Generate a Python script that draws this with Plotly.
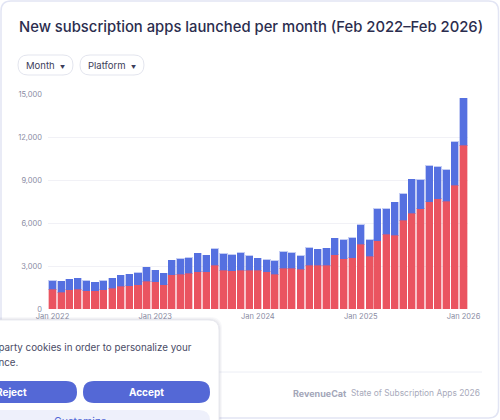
import pandas as pd
import plotly.graph_objects as go

# ---------------- data ----------------
months = pd.date_range("2022-01-01", periods=49, freq="MS")
total_apps = [1980, 1930, 2070, 2160, 1980, 1880, 1980, 2140, 2370, 2420, 2540, 2910,
              2700, 2510, 3400, 3490, 3580, 3890, 3760, 4190, 3840, 3800, 3930, 3700,
              3550, 3440, 3360, 3980, 3940, 3730, 4280, 4160, 4240, 4940, 4820, 4980,
              5890, 4820, 6980, 6980, 7440, 8050, 9050, 9030, 9980, 9930, 9720, 11680,
              14700]
red_apps = [1370, 1160, 1350, 1370, 1280, 1260, 1330, 1460, 1600, 1630, 1700, 1950,
            1910, 1700, 2400, 2410, 2510, 2590, 2590, 3060, 2690, 2660, 2720, 2700,
            2700, 2610, 2430, 2860, 2840, 2790, 3060, 3050, 3070, 3770, 3520, 3560,
            4510, 3680, 4750, 5230, 5160, 6190, 6680, 6980, 7470, 7700, 7510, 8650,
            11440]
blue_apps = [t - r for t, r in zip(total_apps, red_apps)]
y_ticks = [0, 3000, 6000, 9000, 12000, 15000]

RED = "#ea5460"
BLUE = "#5570e0"

W, H = 500, 420
ML, MR, MT, MB = 48, 32, 94, 111
PW, PH = W - ML - MR, H - MT - MB


def px(x):
    return (x - ML) / PW


def py(y):
    return 1 - (y - MT) / PH


def rrect(x0, y0, x1, y1, r):
    pts = [
        ("M", x0 + r, y0), ("L", x1 - r, y0), ("Q", x1, y0, x1, y0 + r),
        ("L", x1, y1 - r), ("Q", x1, y1, x1 - r, y1), ("L", x0 + r, y1),
        ("Q", x0, y1, x0, y1 - r), ("L", x0, y0 + r), ("Q", x0, y0, x0 + r, y0),
    ]
    s = ""
    for p in pts:
        cmd = p[0]
        coords = p[1:]
        parts = []
        for i in range(0, len(coords), 2):
            parts.append(f"{px(coords[i]):.5f},{py(coords[i+1]):.5f}")
        s += cmd + " " + " ".join(parts) + " "
    return s + "Z"


fig = go.Figure()
fig.add_trace(go.Bar(x=months, y=red_apps, name="iOS",
                     marker=dict(color=RED, line=dict(color="rgba(234,84,96,0.35)", width=1))))
fig.add_trace(go.Bar(x=months, y=blue_apps, name="Android",
                     marker=dict(color=BLUE, line=dict(color="rgba(85,112,224,0.35)", width=1))))

shapes = []
shapes.append(dict(type="path", path=rrect(1, 1, 498.5, 418, 10), xref="paper", yref="paper",
                   line=dict(color="#e2e5f4", width=1.5), fillcolor="rgba(0,0,0,0)", layer="below"))
shapes.append(dict(type="path", path=rrect(18, 55, 73, 75, 10), xref="paper", yref="paper",
                   line=dict(color="#e3e5ee", width=1), fillcolor="white", layer="below"))
shapes.append(dict(type="path", path=rrect(80, 55, 144, 75, 10), xref="paper", yref="paper",
                   line=dict(color="#e3e5ee", width=1), fillcolor="white", layer="below"))
shapes.append(dict(type="line", x0=px(18), x1=px(482), y0=py(372), y1=py(372), xref="paper", yref="paper",
                   line=dict(color="#eceef5", width=1), layer="below"))
for i, a in enumerate([0.03, 0.04, 0.05]):
    d = 3 - i
    shapes.append(dict(type="path", path=rrect(-20, 320 - d, 219 + d, 440, 12), xref="paper", yref="paper",
                       line=dict(width=0), fillcolor=f"rgba(40,40,80,{a})", layer="above"))
shapes.append(dict(type="path", path=rrect(-20, 320, 219, 440, 10), xref="paper", yref="paper",
                   line=dict(color="#e9eaf0", width=1), fillcolor="white", layer="above"))
shapes.append(dict(type="path", path=rrect(-49, 381, 77, 403, 11), xref="paper", yref="paper",
                   line=dict(width=0), fillcolor="#5468d6", layer="above"))
shapes.append(dict(type="path", path=rrect(83, 381, 210, 403, 11), xref="paper", yref="paper",
                   line=dict(width=0), fillcolor="#5468d6", layer="above"))
shapes.append(dict(type="path", path=rrect(-49, 410, 210, 432, 11), xref="paper", yref="paper",
                   line=dict(width=0), fillcolor="#eef0fb", layer="above"))

FONT = "Inter"


def note(text, x, y, anchor, size, color, weight="normal"):
    return dict(text=text, x=px(x), y=py(y), xref="paper", yref="paper", xanchor=anchor,
                yanchor="middle", showarrow=False,
                font=dict(family=FONT, size=size, color=color, weight=weight))


ARROW = "<span style='font-size:5px'>▼</span>"
ann = [
    note("New subscription apps launched per month (Feb 2022–Feb 2026)", 17, 27, "left", 14.8, "#2b2d4e", 500),
    note("Month  " + ARROW, 45.5, 65, "center", 9.5, "#3b3d5a"),
    note("Platform  " + ARROW, 112, 65, "center", 9.5, "#3b3d5a"),
    note("We use third-party cookies in order to personalize your", 194, 347, "right", 9.8, "#4a4c66"),
    note("experience.", 21, 362, "right", 9.8, "#4a4c66"),
    note("<b>Reject</b>", 29, 392, "right", 10, "white"),
    note("<b>Accept</b>", 146.5, 392, "center", 10, "white"),
    note("Customize", 80.5, 421, "center", 10.5, "#5468d6"),
    note("<b>RevenueCat</b>", 348.5, 393, "right", 9, "#a3a6b8"),
    note("State of Subscription Apps 2026", 482, 393, "right", 8.4, "#a8aabb"),
]

fig.update_layout(
    width=W, height=H,
    margin=dict(l=ML, r=MR, t=MT, b=MB, autoexpand=False),
    paper_bgcolor="white", plot_bgcolor="white",
    barmode="stack", bargap=0.1, showlegend=False,
    font=dict(family=FONT, size=8, color="#8a8ca3"),
    shapes=shapes, annotations=ann,
    xaxis=dict(type="date", range=["2021-12-16", "2026-01-17"], tick0="2022-01-01", dtick="M12",
               tickformat="%b %Y", showgrid=False, zeroline=False, showline=False, ticks="",
               ticklabelstandoff=1,
               tickfont=dict(size=7.5, color="#8a8ca3"), automargin=False),
    yaxis=dict(range=[0, 15000], tickvals=y_ticks, tickformat=",", showgrid=True, gridcolor="#f1f1f6",
               gridwidth=1, zeroline=False, showline=False, ticks="", ticklabelstandoff=5,
               tickfont=dict(size=7.5, color="#8a8ca3"), automargin=False),
)

fig.write_html("out.html")
